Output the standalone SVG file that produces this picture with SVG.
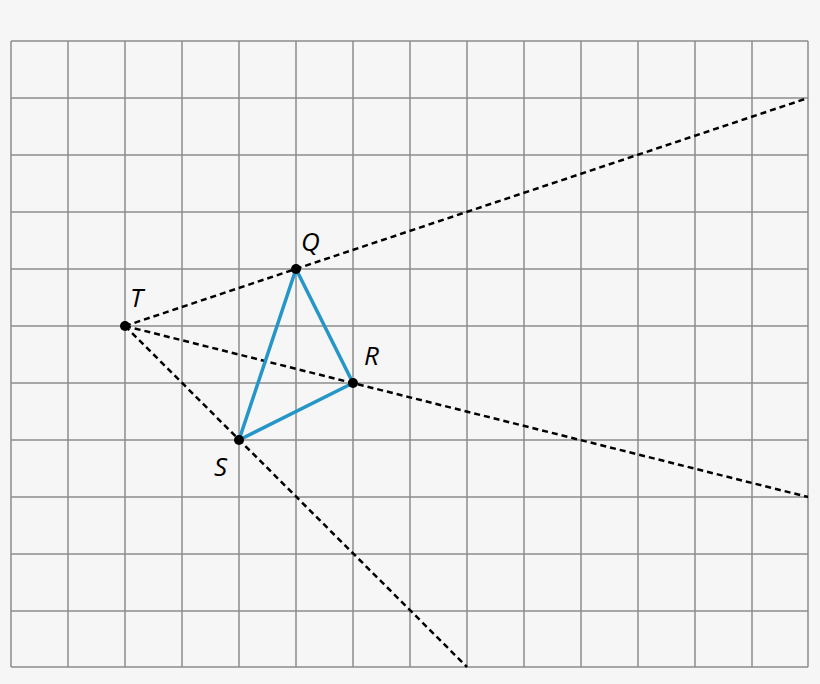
<svg xmlns="http://www.w3.org/2000/svg" width="820" height="684" viewBox="0 0 820 684">
<style>
.grid line{stroke:#8c8c8c;stroke-width:1.5}
.dash{stroke:#000;stroke-width:2.5;stroke-dasharray:6 4;fill:none}
.tri{stroke:#2496c8;stroke-width:3.5;fill:none;stroke-linejoin:round}
.pt{fill:#000}
.lbl{font-family:"Open Sans","Noto Sans",sans-serif;font-style:italic;font-size:26px;fill:#000}
</style>
<rect width="820" height="684" fill="#f6f6f6"/>
<g class="grid" id="grid">
<line x1="11" y1="41" x2="11" y2="667"/><line x1="68" y1="41" x2="68" y2="667"/><line x1="125" y1="41" x2="125" y2="667"/><line x1="182" y1="41" x2="182" y2="667"/><line x1="239" y1="41" x2="239" y2="667"/><line x1="296" y1="41" x2="296" y2="667"/><line x1="353" y1="41" x2="353" y2="667"/><line x1="410" y1="41" x2="410" y2="667"/><line x1="467" y1="41" x2="467" y2="667"/><line x1="524" y1="41" x2="524" y2="667"/><line x1="581" y1="41" x2="581" y2="667"/><line x1="638" y1="41" x2="638" y2="667"/><line x1="695" y1="41" x2="695" y2="667"/><line x1="752" y1="41" x2="752" y2="667"/><line x1="808" y1="41" x2="808" y2="667"/>
<line x1="11" y1="41" x2="808" y2="41"/><line x1="11" y1="98" x2="808" y2="98"/><line x1="11" y1="155" x2="808" y2="155"/><line x1="11" y1="212" x2="808" y2="212"/><line x1="11" y1="269" x2="808" y2="269"/><line x1="11" y1="326" x2="808" y2="326"/><line x1="11" y1="383" x2="808" y2="383"/><line x1="11" y1="440" x2="808" y2="440"/><line x1="11" y1="497" x2="808" y2="497"/><line x1="11" y1="554" x2="808" y2="554"/><line x1="11" y1="611" x2="808" y2="611"/><line x1="11" y1="667" x2="808" y2="667"/>
</g>
<g id="connectors">
<line class="dash" x1="125" y1="326" x2="808" y2="98"/>
<line class="dash" x1="125" y1="326" x2="808" y2="497"/>
<line class="dash" x1="125" y1="326" x2="467" y2="667"/>
<polygon class="tri" points="296,269 353,383 239,440"/>
</g>
<g id="T"><circle class="pt" cx="125" cy="326" r="5"/><text class="lbl" x="130" y="307">T</text></g>
<g id="Q"><circle class="pt" cx="296" cy="269" r="5"/><text class="lbl" x="301" y="251">Q</text></g>
<g id="R"><circle class="pt" cx="353" cy="383" r="5"/><text class="lbl" x="364" y="365">R</text></g>
<g id="S"><circle class="pt" cx="239" cy="440" r="5"/><text class="lbl" x="214" y="476">S</text></g>
</svg>
